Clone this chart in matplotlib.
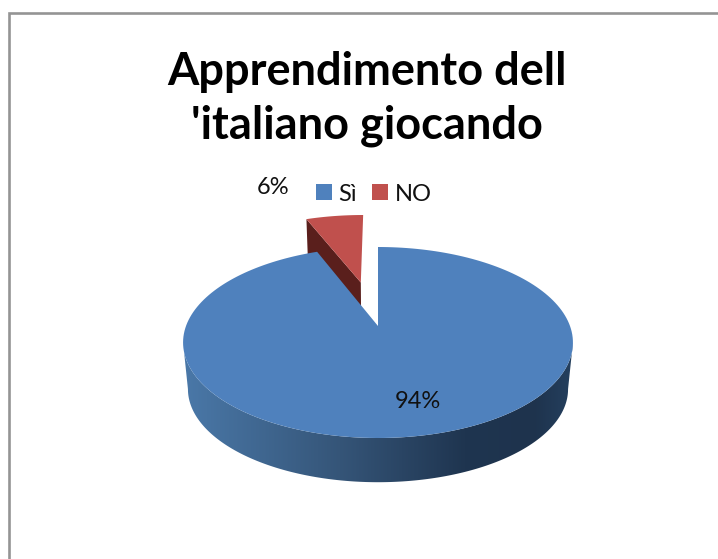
import matplotlib
matplotlib.use("Agg")
import matplotlib.pyplot as plt
import numpy as np
from matplotlib.colors import LinearSegmentedColormap
from matplotlib.patches import Patch, Polygon

plt.rcParams['font.family'] = ['Lato', 'DejaVu Sans']

# data
categories = ['Sì', 'NO']
values = [94, 6]
colors = ['#4f81bd', '#c0504d']
title = "Apprendimento dell\n'italiano giocando"

# the picture works in pixels, y going down
W, H = 718, 559
fig = plt.figure(figsize=(W / 100, H / 100), dpi=100)
ax = fig.add_axes([0, 0, 1, 1])

# let pie work out the angles and the explode offset, then redraw them in perspective
wedges, _ = ax.pie(values, explode=[0, 0.52], startangle=90, counterclock=False)
geom = [(w.center, w.theta1, w.theta2) for w in wedges]
for w in wedges:
    w.remove()
ax.set_aspect('auto')
ax.set_xlim(0, W)
ax.set_ylim(H, 0)
ax.axis('off')

CX, CY = 378, 326   # pie centre on the top face
TILT = 0.1728
SX, SY = 192, 92.65
DEPTH_DY, DEPTH_SCALE = 47, 0.975


def project(u, v, bottom=False):
    d = 1 + TILT * v
    x, y = SX * u / d, SY * v / d
    if bottom:
        return CX + x * DEPTH_SCALE, CY + DEPTH_DY - y * DEPTH_SCALE
    return CX + x, CY - y


def wedge_xy(center, t1, t2, bottom=False):
    t = np.radians(np.linspace(t1, t2, 200))
    u = np.r_[center[0], center[0] + np.cos(t)]
    v = np.r_[center[1], center[1] + np.sin(t)]
    return np.column_stack(project(u, v, bottom))


# side of the small slice, goes behind everything else
center, t1, t2 = geom[1]
top = wedge_xy(center, t1, t2)
low = wedge_xy(center, t1, t2, bottom=True)
ax.add_patch(Polygon([top[0], top[-1], low[-1], low[0]], fc='#5a1f1c', ec='none', zorder=1))
ax.add_patch(Polygon(wedge_xy(center, t1, t2), fc=colors[1], ec='none', zorder=2))

# rim of the big slice, dark gradient clipped to the front half of the disc
t = np.radians(np.linspace(180 + np.degrees(np.arcsin(TILT)), 360 - np.degrees(np.arcsin(TILT)), 300))
rim_top = np.column_stack(project(np.cos(t), np.sin(t)))
rim_low = np.column_stack(project(np.cos(t), np.sin(t), bottom=True))
rim = Polygon(np.vstack([rim_top, rim_low[::-1]]), fc='none', ec='none', transform=ax.transData)
ax.add_patch(rim)
ramp = LinearSegmentedColormap.from_list('rim', [(0, '#4a78a8'), (0.4, '#355578'), (0.72, '#1f3550'),
                                                 (0.9, '#1e334d'), (1, '#25405f')])
img = ax.imshow(np.linspace(0, 1, 256)[None, :], cmap=ramp, extent=(184, 574, 490, 330),
                aspect='auto', zorder=3)
img.set_clip_path(rim)
ax.set_xlim(0, W)
ax.set_ylim(H, 0)

center, t1, t2 = geom[0]
ax.add_patch(Polygon(wedge_xy(center, t1, t2), fc=colors[0], ec='none', zorder=4))

# value labels
ax.text(273, 188, f'{values[1]}%', fontsize=17, ha='center', va='center', color='#111111', zorder=5)
ax.text(418, 402, f'{values[0]}%', fontsize=17, ha='center', va='center', color='#111111', zorder=5)

ax.text(367, 99, title, fontsize=32.5, fontweight='bold', ha='center', va='center',
        linespacing=1.36, color='black', zorder=5)

# legend
handles = [Patch(fc=c, ec='none') for c in colors]
ax.legend(handles, categories, loc='center', bbox_to_anchor=(374 / W, 1 - 194 / H), ncol=2, frameon=False,
          fontsize=17, handlelength=0.66, handleheight=0.66, handletextpad=0.28, columnspacing=0.65,
          borderpad=0, labelcolor='#111111')

# chart frame, only left and top are in the crop
ax.plot([9, 9, W], [H, 13, 13], color='#949494', lw=1.9, zorder=6, solid_joinstyle='miter')

fig.savefig('out.png', dpi=100, facecolor='white')
